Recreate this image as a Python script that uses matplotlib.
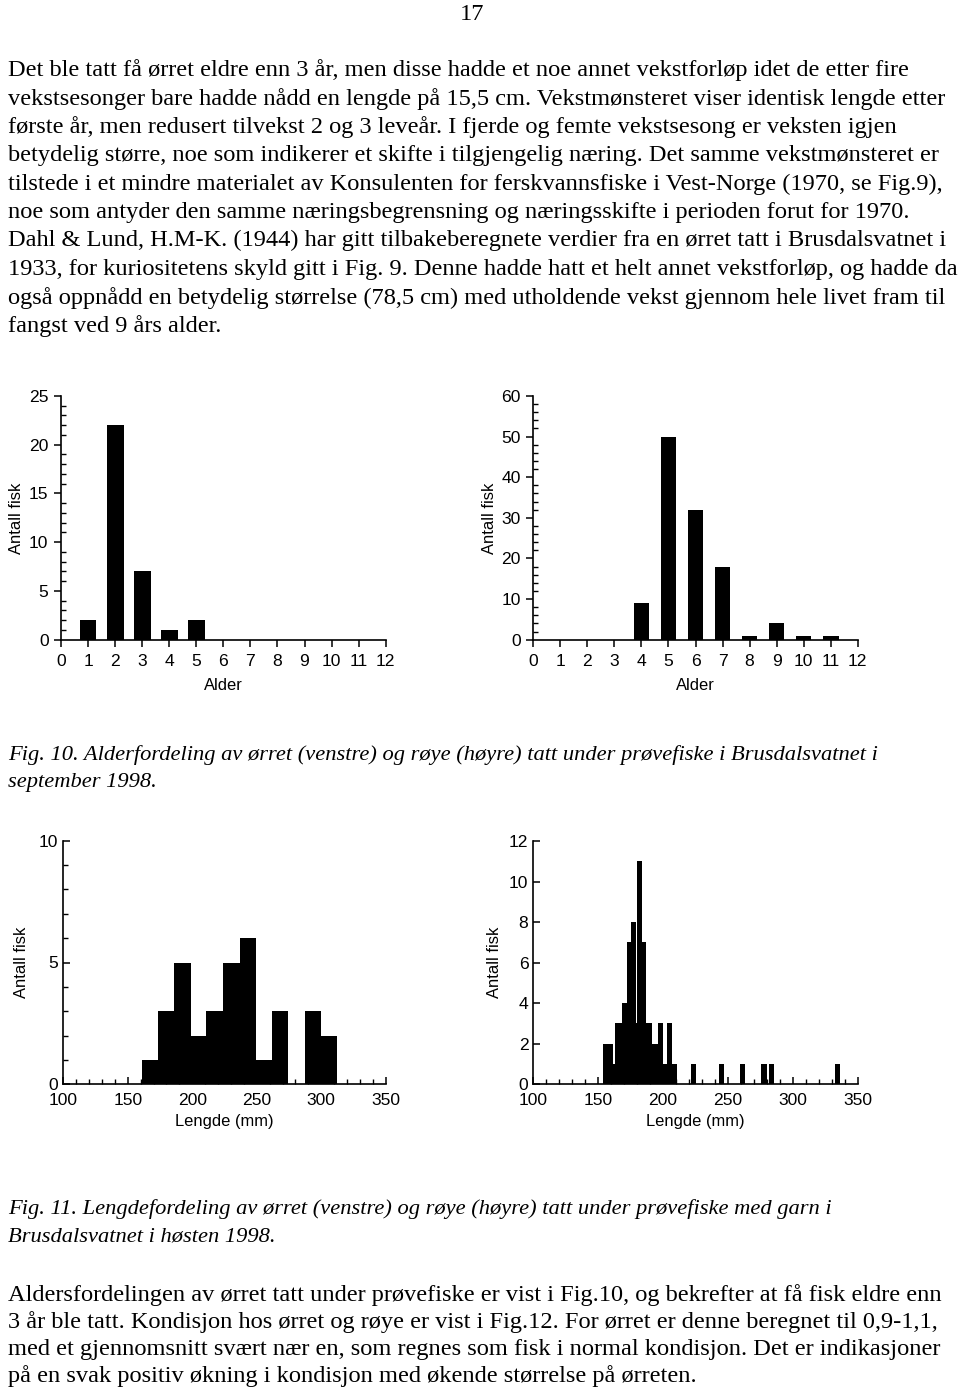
import matplotlib
matplotlib.use("Agg")
import matplotlib.pyplot as plt
from matplotlib.ticker import MultipleLocator
import numpy as np

# ---------------- data ----------------
alder = [1, 2, 3, 4, 5, 6, 7, 8, 9, 10, 11]
orret_alder = [2, 22, 7, 1, 2, 0, 0, 0, 0, 0, 0]
roye_alder = [0, 0, 0, 9, 50, 32, 18, 1, 4, 1, 1]

orret_len_edges = [161, 173.5, 186, 199, 211, 224, 237, 249.5, 262, 274.5, 287.5, 300, 312.5]
orret_len_count = [1, 3, 5, 2, 3, 5, 6, 1, 3, 0, 3, 2]

roye_len_lo = [153.9, 161.6, 162.9, 168.1, 171.9, 175.0, 178.9, 179.7, 184.0, 186.8,
               191.7, 196.3, 200.2, 203.2, 207.1, 221.2, 243.3, 259.2, 275.2, 281.4, 332.7]
roye_len_hi = [161.6, 162.9, 168.1, 171.9, 175.0, 178.9, 179.7, 184.0, 186.8, 191.7,
               196.3, 200.2, 203.2, 207.1, 210.5, 225.1, 247.1, 263.1, 279.8, 285.2, 336.5]
roye_len_count = [2, 1, 3, 4, 7, 8, 3, 11, 7, 3, 2, 3, 1, 3, 1, 1, 1, 1, 1, 1, 1]

page_no = "17"
para1 = [
    "Det ble tatt få ørret eldre enn 3 år, men disse hadde et noe annet vekstforløp idet de etter fire",
    "vekstsesonger bare hadde nådd en lengde på 15,5 cm. Vekstmønsteret viser identisk lengde etter",
    "første år, men redusert tilvekst 2 og 3 leveår. I fjerde og femte vekstsesong er veksten igjen",
    "betydelig større, noe som indikerer et skifte i tilgjengelig næring. Det samme vekstmønsteret er",
    "tilstede i et mindre materialet av Konsulenten for ferskvannsfiske i Vest-Norge (1970, se Fig.9),",
    "noe som antyder den samme næringsbegrensning og næringsskifte i perioden forut for 1970.",
    "Dahl & Lund, H.M-K. (1944) har gitt tilbakeberegnete verdier fra en ørret tatt i Brusdalsvatnet i",
    "1933, for kuriositetens skyld gitt i Fig. 9. Denne hadde hatt et helt annet vekstforløp, og hadde da",
    "også oppnådd en betydelig størrelse (78,5 cm) med utholdende vekst gjennom hele livet fram til",
    "fangst ved 9 års alder.",
]
cap10 = [
    "Fig. 10. Alderfordeling av ørret (venstre) og røye (høyre) tatt under prøvefiske i Brusdalsvatnet i",
    "september 1998.",
]
cap11 = [
    "Fig. 11. Lengdefordeling av ørret (venstre) og røye (høyre) tatt under prøvefiske med garn i",
    "Brusdalsvatnet i høsten 1998.",
]
para2 = [
    "Aldersfordelingen av ørret tatt under prøvefiske er vist i Fig.10, og bekrefter at få fisk eldre enn",
    "3 år ble tatt. Kondisjon hos ørret og røye er vist i Fig.12. For ørret er denne beregnet til 0,9-1,1,",
    "med et gjennomsnitt svært nær en, som regnes som fisk i normal kondisjon. Det er indikasjoner",
    "på en svak positiv økning i kondisjon med økende størrelse på ørreten.",
]

# ---------------- figure ----------------
SERIF = "Liberation Serif"
SANS = "Liberation Sans"
plt.rcParams["font.family"] = [SANS, "DejaVu Sans"]

W, H = 960, 1389
fig = plt.figure(figsize=(W / 100, H / 100), dpi=100)
fig.patch.set_facecolor("white")

TICK_FS = 12.6
LAB_FS = 11.9


def ax_at(x0, x1, ytop, ybot):
    return fig.add_axes([x0 / W, 1 - ybot / H, (x1 - x0) / W, (ybot - ytop) / H])


def style_axes(ax, tick_dir="out", xmin=None, ymaj=None, ymin=None, xpad=5, ypad=4):
    for s in ("top", "right"):
        ax.spines[s].set_visible(False)
    for s in ("left", "bottom"):
        ax.spines[s].set_linewidth(1.2)
        ax.spines[s].set_color("black")
    if xmin:
        ax.xaxis.set_minor_locator(MultipleLocator(xmin))
    if ymaj:
        ax.yaxis.set_major_locator(MultipleLocator(ymaj))
    if ymin:
        ax.yaxis.set_minor_locator(MultipleLocator(ymin))
    ax.tick_params(axis="both", which="major", labelsize=TICK_FS, width=1.1,
                   length=5, color="black", labelcolor="black", direction=tick_dir)
    ax.tick_params(axis="x", which="major", pad=xpad)
    ax.tick_params(axis="y", which="major", pad=ypad)
    ax.tick_params(axis="both", which="minor", length=3.5, width=1.0, direction="in")
    ax.set_facecolor("none")


# Fig 10 left: ørret alder
ax1 = ax_at(61, 385.7, 396, 639.7)
ax1.bar(alder, orret_alder, width=0.62, color="black")
ax1.set_xlim(0, 12)
ax1.set_ylim(0, 25)
ax1.set_xticks(range(0, 13))
style_axes(ax1, "out", None, 5, 1)
ax1.set_xlabel("Alder", fontsize=LAB_FS, labelpad=7)
ax1.set_ylabel("Antall fisk", fontsize=LAB_FS, labelpad=3.4)

# Fig 10 right: røye alder
ax2 = ax_at(533.3, 857.7, 396, 639.7)
ax2.bar(alder, roye_alder, width=0.58, color="black")
ax2.set_xlim(0, 12)
ax2.set_ylim(0, 60)
ax2.set_xticks(range(0, 13))
style_axes(ax2, "out", None, 10, 2)
ax2.set_xlabel("Alder", fontsize=LAB_FS, labelpad=7)
ax2.set_ylabel("Antall fisk", fontsize=LAB_FS, labelpad=3.1)

# Fig 11 left: ørret lengde
ax3 = ax_at(63.3, 385.7, 840.7, 1084.3)
ax3.stairs(orret_len_count, orret_len_edges, fill=True, color="black")
ax3.set_xlim(100, 350)
ax3.set_ylim(0, 10)
ax3.set_xticks(range(100, 351, 50))
style_axes(ax3, "in", 10, 5, 1, xpad=6.5, ypad=3.5)
ax3.set_xlabel("Lengde (mm)", fontsize=LAB_FS, labelpad=4)
ax3.set_ylabel("Antall fisk", fontsize=LAB_FS, labelpad=7)

# Fig 11 right: røye lengde
ax4 = ax_at(533.3, 857.7, 841, 1084.3)
ax4.bar(roye_len_lo, roye_len_count,
        width=np.array(roye_len_hi) - np.array(roye_len_lo), align="edge",
        color="black", linewidth=0)
ax4.set_xlim(100, 350)
ax4.set_ylim(0, 12)
ax4.set_xticks(range(100, 351, 50))
style_axes(ax4, "in", 10, 2, None, xpad=6.5, ypad=3.5)
ax4.set_xlabel("Lengde (mm)", fontsize=LAB_FS, labelpad=4)
ax4.set_ylabel("Antall fisk", fontsize=LAB_FS, labelpad=4.7)

# ---------------- text ----------------
renderer = fig.canvas.get_renderer()


def measure(text, size, style="normal"):
    t = fig.text(0, 0, text, family=SERIF, fontsize=size, style=style)
    bb = t.get_window_extent(renderer=renderer)
    t.remove()
    return bb.width


fs_body = 10 * 903 / measure(para1[0], 10)
fs_cap = 10 * 870 / measure(cap10[0], 10, "italic")


def put(text, x, yc, size, style="normal", ha="left"):
    fig.text(x / W, 1 - yc / H, text, family=SERIF, fontsize=size, style=style,
             ha=ha, va="center_baseline", color="black")


put(page_no, 472, 12, fs_body, ha="center")
y = 68
for line in para1:
    put(line, 8, y, fs_body)
    y += 28.4

for i, line in enumerate(cap10):
    put(line, 8, 753 + 27 * i, fs_cap, "italic")
for i, line in enumerate(cap11):
    put(line, 8, 1207 + 27 * i, fs_cap, "italic")
for i, line in enumerate(para2):
    put(line, 8, 1293 + 27 * i, fs_body)

fig.savefig("out.png", dpi=100, facecolor="white")
